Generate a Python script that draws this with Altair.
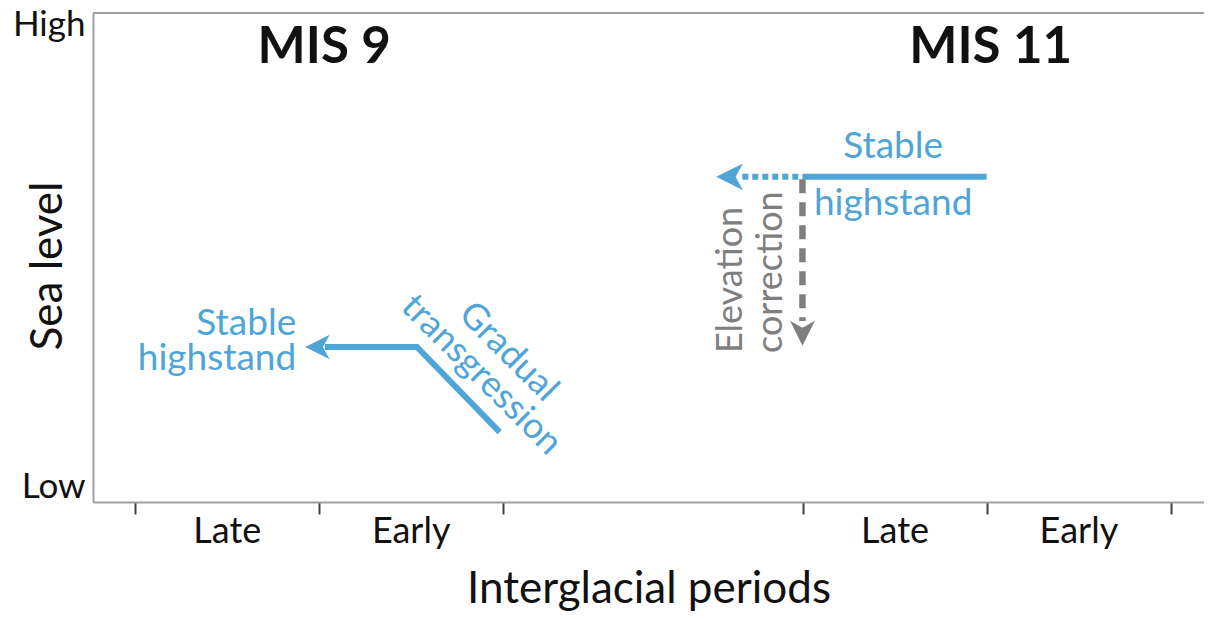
import altair as alt
import pandas as pd

FONT = "Lato"
BLUE = "#4fa5d8"
GRAY = "#7f7f7f"

W, H = 1111, 489

# x in "period units" (one Late/Early interval = 1), y = relative sea level (0 low, 1 high)
tick_values = [0, 1, 2, 3.63, 4.63, 5.63]
period_labels = ["Late", "Early", "Late", "Early"]
period_label_x = [0.5, 1.5, 4.13, 5.13]

mis_names = ["MIS 9", "MIS 11"]
mis_x = [1.027, 4.65]
mis_y = [0.898, 0.898]

# MIS 9 sea-level path (highstand + gradual transgression)
mis9_x = [1.03, 1.531, 1.981]
mis9_y = [0.317, 0.317, 0.143]

# MIS 11 highstand
mis11_solid_x = [3.627, 4.628]
mis11_solid_y = [0.665, 0.665]
mis11_dot_x = [3.30, 3.627]
mis11_dot_y = [0.665, 0.665]

# elevation correction
corr_x = [3.627, 3.627]
corr_y = [0.660, 0.37]

# arrow heads
arrow_x = [0.99, 3.231, 3.627]
arrow_y = [0.317, 0.665, 0.345]
arrow_angle = [0, 0, 270]
arrow_color = [BLUE, BLUE, GRAY]
arrow_size = [600, 720, 620]

# annotations
right_text = ["Stable", "highstand"]
right_x = [0.875, 0.875]
right_y = [0.3415, 0.270]

center_text = ["Stable", "highstand"]
center_x = [4.12, 4.12]
center_y = [0.7035, 0.587]

diag_text = ["Gradual", "transgression"]
diag_x = [2.029, 1.882]
diag_y = [0.307, 0.260]

vert_text = ["Elevation", "correction"]
vert_x = [3.237, 3.455]
vert_y = [0.454, 0.470]

xs = alt.Scale(domain=[-0.23, 5.81], nice=False, zero=False)
ys = alt.Scale(domain=[0, 1], nice=False, zero=False)

XAXIS = alt.Axis(
    values=tick_values, labels=False, grid=False, tickSize=12, tickWidth=2,
    tickColor="#404040", domainColor="#a0a0a0", domainWidth=2,
    title="Interglacial periods", titleFont=FONT, titleFontSize=44,
    titleFontWeight="normal", titleColor="#111111",
    titleY=100, titleBaseline="alphabetic")
YAXIS = alt.Axis(
    values=[0.0102, 0.955], labelExpr="datum.value > 0.5 ? 'High' : 'Low'",
    ticks=False, grid=False, labelPadding=8, labelFont=FONT, labelFontSize=35,
    labelColor="#111111", labelBaseline="alphabetic",
    domainColor="#a0a0a0", domainWidth=2,
    title="Sea level", titleFont=FONT, titleFontSize=44, titleFontWeight="normal",
    titleColor="#111111", titleX=-45, titleY=H / 2 + 8, titleBaseline="middle",
    titleAlign="center", titleAngle=270)


def X():
    return alt.X("x:Q", scale=xs, axis=XAXIS)


def Y():
    return alt.Y("y:Q", scale=ys, axis=YAXIS)


top_border = alt.Chart(pd.DataFrame({"k": [0]})).mark_rule(color="#a0a0a0", strokeWidth=2).encode(
    x=alt.value(0), x2=alt.value(W), y=alt.value(0)
)

mis9 = alt.Chart(pd.DataFrame({"x": mis9_x, "y": mis9_y, "o": [0, 1, 2]})).mark_line(
    color=BLUE, strokeWidth=6, strokeJoin="miter", strokeCap="butt"
).encode(x=X(), y=Y(), order="o:Q")

mis11 = alt.Chart(pd.DataFrame({"x": mis11_solid_x, "y": mis11_solid_y})).mark_line(
    color=BLUE, strokeWidth=6, strokeCap="butt"
).encode(x=X(), y=Y())

mis11_dot = alt.Chart(pd.DataFrame({"x": mis11_dot_x, "y": mis11_dot_y})).mark_line(
    color=BLUE, strokeWidth=6, strokeDash=[6, 4], strokeCap="butt"
).encode(x=X(), y=Y())

corr = alt.Chart(pd.DataFrame({"x": corr_x, "y": corr_y})).mark_line(
    color=GRAY, strokeWidth=6.5, strokeDash=[14, 9], strokeCap="butt"
).encode(x=X(), y=Y())

arrows = alt.Chart(pd.DataFrame({
    "x": arrow_x, "y": arrow_y, "a": arrow_angle, "c": arrow_color, "s": arrow_size
})).mark_point(
    shape="M -1 0 L 1 -1 L 0.45 0 L 1 1 Z", filled=True, opacity=1, strokeWidth=0
).encode(
    x=X(), y=Y(),
    angle=alt.Angle("a:Q", scale=None),
    color=alt.Color("c:N", scale=None),
    size=alt.Size("s:Q", scale=None),
)

period = alt.Chart(pd.DataFrame({"t": period_labels, "x": period_label_x})).mark_text(
    font=FONT, fontSize=36, color="#111111", align="center", baseline="alphabetic"
).encode(x=X(), y=alt.value(530), text="t:N")

titles = alt.Chart(pd.DataFrame({"t": mis_names, "x": mis_x, "y": mis_y})).mark_text(
    font=FONT, fontSize=51, fontWeight="bold", color="#111111", align="center",
    baseline="alphabetic"
).encode(x=X(), y=Y(), text="t:N")

txt_right = alt.Chart(pd.DataFrame({"t": right_text, "x": right_x, "y": right_y})).mark_text(
    font=FONT, fontSize=37, color=BLUE, align="right", baseline="alphabetic"
).encode(x=X(), y=Y(), text="t:N")

txt_center = alt.Chart(pd.DataFrame({"t": center_text, "x": center_x, "y": center_y})).mark_text(
    font=FONT, fontSize=37, color=BLUE, align="center", baseline="alphabetic"
).encode(x=X(), y=Y(), text="t:N")

txt_diag = alt.Chart(pd.DataFrame({"t": diag_text, "x": diag_x, "y": diag_y})).mark_text(
    font=FONT, fontSize=36, color=BLUE, align="center", baseline="middle", angle=45
).encode(x=X(), y=Y(), text="t:N")

txt_vert = alt.Chart(pd.DataFrame({"t": vert_text, "x": vert_x, "y": vert_y})).mark_text(
    font=FONT, fontSize=36, color=GRAY, align="center", baseline="middle", angle=270
).encode(x=X(), y=Y(), text="t:N")

chart = alt.layer(
    top_border, mis9, mis11, mis11_dot, corr, arrows,
    period, titles, txt_right, txt_center, txt_diag, txt_vert
).properties(
    width=W, height=H,
    autosize=alt.AutoSizeParams(type="none"),
    padding={"left": 85, "top": 5, "right": 0, "bottom": 109},
).configure_view(stroke="transparent").configure(background="white")

chart.save("out.html", embed_options={"renderer": "svg", "actions": False})
